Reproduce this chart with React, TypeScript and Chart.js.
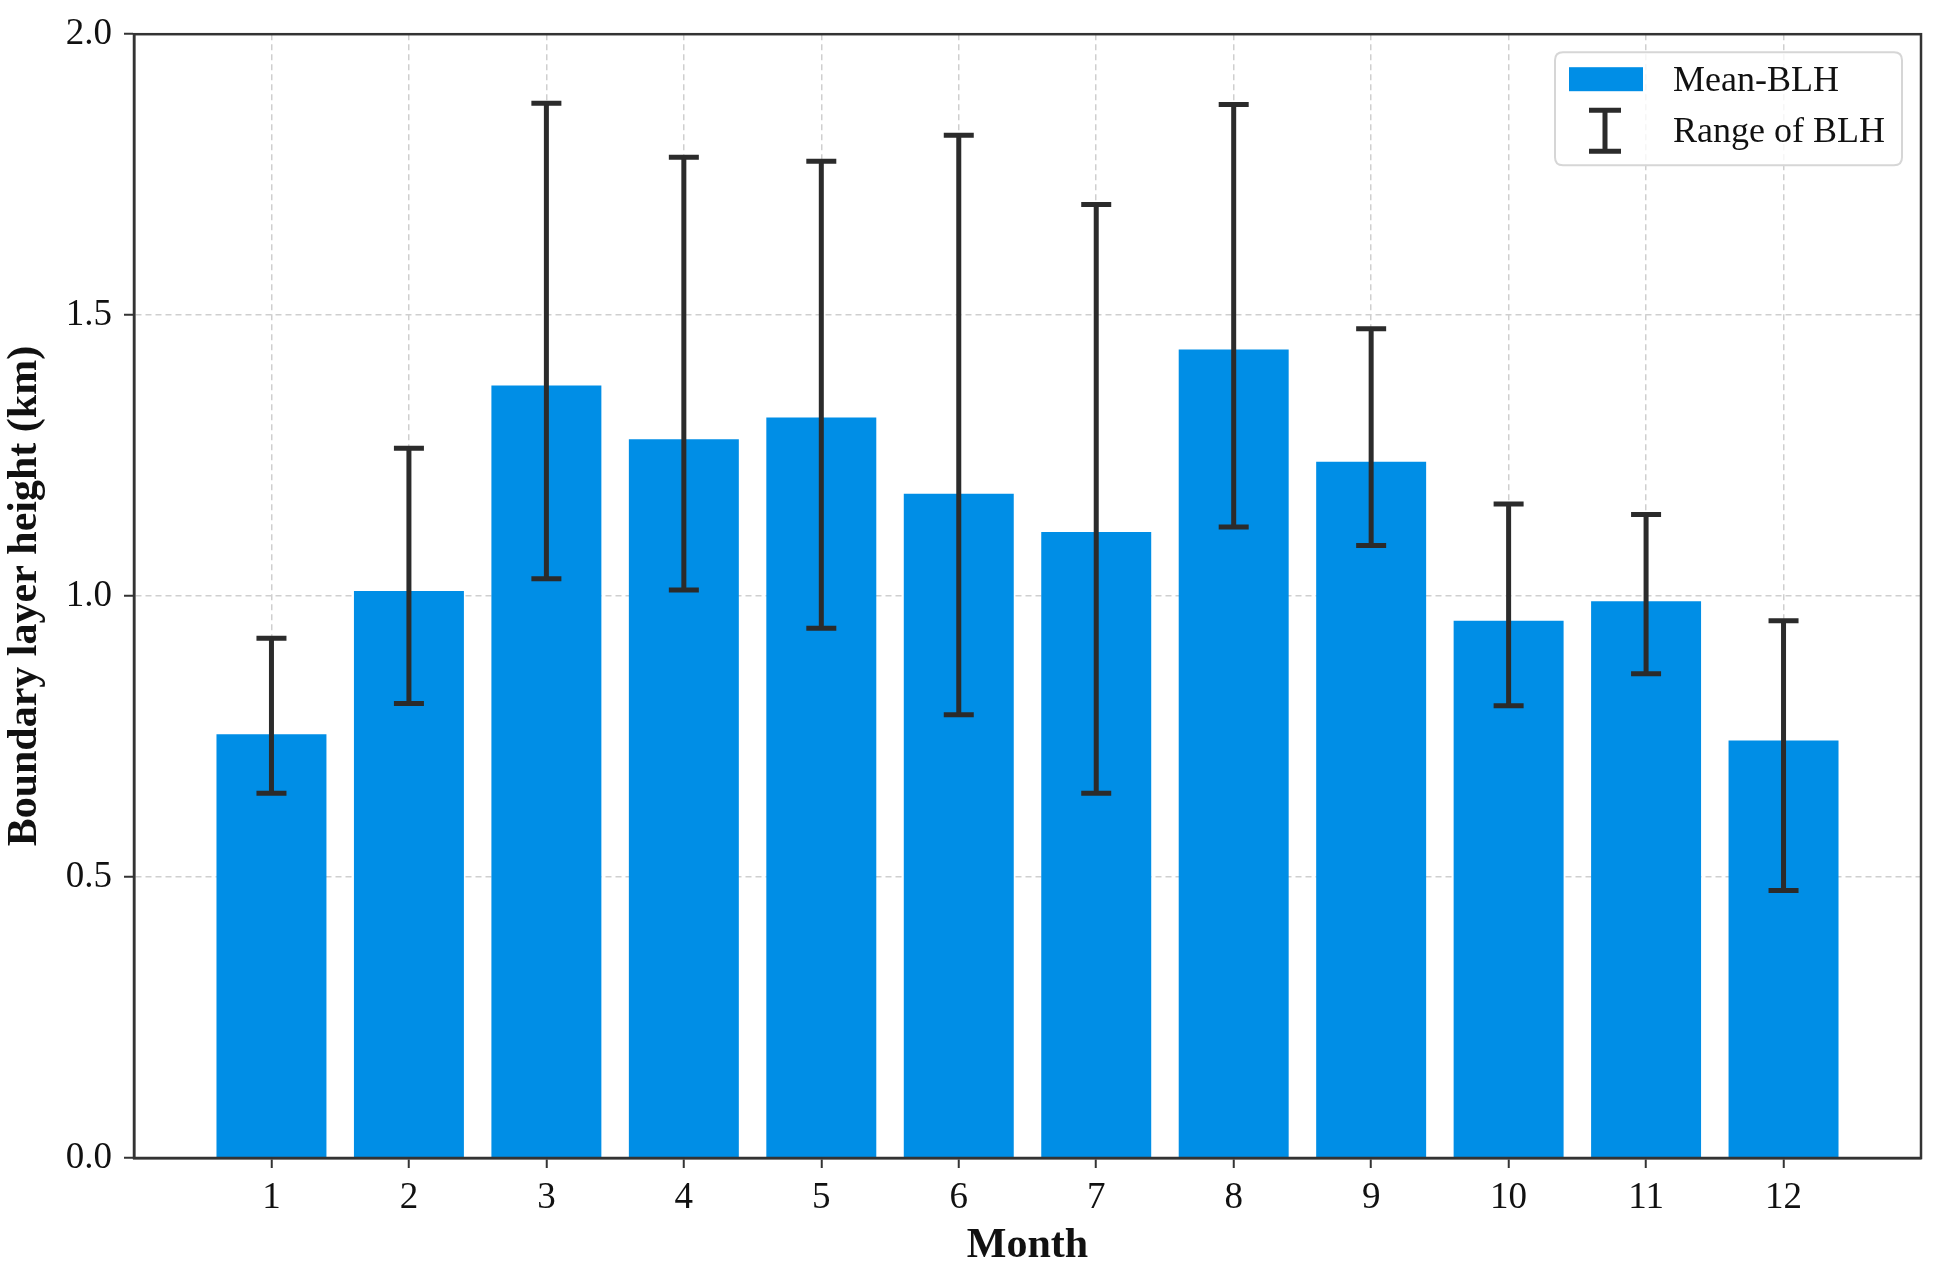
import React, { useEffect, useRef } from "react";
import { Chart, registerables } from "chart.js";

Chart.register(...registerables);

const months = [1, 2, 3, 4, 5, 6, 7, 8, 9, 10, 11, 12];
const meanBLH = [0.754, 1.009, 1.375, 1.279, 1.318, 1.182, 1.114, 1.439, 1.239, 0.956, 0.991, 0.743];
const rangeLow = [0.649, 0.809, 1.031, 1.011, 0.943, 0.789, 0.649, 1.123, 1.090, 0.805, 0.862, 0.476];
const rangeHigh = [0.925, 1.263, 1.877, 1.781, 1.774, 1.820, 1.697, 1.875, 1.476, 1.164, 1.145, 0.956];
const yTicks = [0, 0.5, 1.0, 1.5, 2.0];
const seriesLabels = ["Mean-BLH", "Range of BLH"];

const FONT = "'Liberation Serif', 'Times New Roman', serif";
const BAR_COLOR = "#008ee6";
const ERR_COLOR = "#2b2b2b";
const AXIS_COLOR = "#333333";

const errorBarPlugin = {
  id: "errorBars",
  afterDatasetsDraw(chart: any) {
    const { ctx, scales } = chart;
    const xs = scales.x;
    const ys = scales.y;
    ctx.save();
    ctx.strokeStyle = ERR_COLOR;
    ctx.lineWidth = 5;
    ctx.lineCap = "butt";
    months.forEach((m, i) => {
      const x = xs.getPixelForValue(m);
      const yLo = ys.getPixelForValue(rangeLow[i]);
      const yHi = ys.getPixelForValue(rangeHigh[i]);
      const cap = 15;
      ctx.beginPath();
      ctx.moveTo(x, yLo);
      ctx.lineTo(x, yHi);
      ctx.moveTo(x - cap, yLo);
      ctx.lineTo(x + cap, yLo);
      ctx.moveTo(x - cap, yHi);
      ctx.lineTo(x + cap, yHi);
      ctx.stroke();
    });
    ctx.restore();
  },
};

const framePlugin = {
  id: "frame",
  afterDraw(chart: any) {
    const { ctx, chartArea } = chart;
    ctx.save();
    ctx.setLineDash([]);
    ctx.strokeStyle = AXIS_COLOR;
    ctx.lineWidth = 2.5;
    ctx.strokeRect(chartArea.left, chartArea.top, chartArea.right - chartArea.left, chartArea.bottom - chartArea.top);
    ctx.restore();
  },
};

function roundRect(ctx: CanvasRenderingContext2D, x: number, y: number, w: number, h: number, r: number) {
  ctx.beginPath();
  ctx.moveTo(x + r, y);
  ctx.lineTo(x + w - r, y);
  ctx.quadraticCurveTo(x + w, y, x + w, y + r);
  ctx.lineTo(x + w, y + h - r);
  ctx.quadraticCurveTo(x + w, y + h, x + w - r, y + h);
  ctx.lineTo(x + r, y + h);
  ctx.quadraticCurveTo(x, y + h, x, y + h - r);
  ctx.lineTo(x, y + r);
  ctx.quadraticCurveTo(x, y, x + r, y);
  ctx.closePath();
}

const legendPlugin = {
  id: "customLegend",
  afterDraw(chart: any) {
    const { ctx, chartArea } = chart;
    const bx = chartArea.right - 366;
    const by = chartArea.top + 18;
    const bw = 347;
    const bh = 113;
    ctx.save();
    ctx.setLineDash([]);
    roundRect(ctx, bx, by, bw, bh, 8);
    ctx.fillStyle = "rgba(255,255,255,0.8)";
    ctx.fill();
    ctx.strokeStyle = "#d6d6d6";
    ctx.lineWidth = 2;
    ctx.stroke();

    ctx.fillStyle = BAR_COLOR;
    ctx.fillRect(bx + 14, by + 15, 74, 24);

    const sx = bx + 50;
    const y1 = by + 58;
    const y2 = by + 99;
    ctx.strokeStyle = ERR_COLOR;
    ctx.lineWidth = 5;
    ctx.beginPath();
    ctx.moveTo(sx, y1);
    ctx.lineTo(sx, y2);
    ctx.moveTo(sx - 16, y1);
    ctx.lineTo(sx + 16, y1);
    ctx.moveTo(sx - 16, y2);
    ctx.lineTo(sx + 16, y2);
    ctx.stroke();

    ctx.fillStyle = "#111111";
    ctx.font = `36px ${FONT}`;
    ctx.textBaseline = "middle";
    ctx.textAlign = "left";
    ctx.fillText(seriesLabels[0], bx + 118, by + 29);
    ctx.fillText(seriesLabels[1], bx + 118, by + 80);
    ctx.restore();
  },
};

export default function App() {
  const canvasRef = useRef<HTMLCanvasElement | null>(null);

  useEffect(() => {
    document.body.style.margin = "0";
    const canvas = canvasRef.current;
    if (!canvas) return;
    const chart = new Chart(canvas, {
      type: "bar",
      data: {
        datasets: [
          {
            label: seriesLabels[0],
            data: months.map((m, i) => ({ x: m, y: meanBLH[i] })),
            backgroundColor: BAR_COLOR,
            borderWidth: 0,
            barPercentage: 0.8,
            categoryPercentage: 1.0,
          },
        ],
      },
      options: {
        responsive: false,
        animation: false,
        devicePixelRatio: 1,
        layout: { padding: { top: 32, right: 14, left: 0, bottom: 0 } },
        plugins: {
          legend: { display: false },
          tooltip: { enabled: false },
        },
        scales: {
          x: {
            type: "linear",
            min: 0,
            max: 13,
            offset: false,
            afterBuildTicks: (scale: any) => {
              scale.ticks = months.map((v) => ({ value: v }));
            },
            afterFit: (scale: any) => {
              scale.height = 113;
            },
            ticks: {
              autoSkip: false,
              maxRotation: 0,
              padding: 8,
              color: "#111111",
              font: { family: FONT, size: 37 },
              callback: (v: any) => String(v),
            },
            grid: {
              offset: false,
              color: "#cfcfcf",
              lineWidth: 1.5,
              drawTicks: true,
              tickLength: 10,
              tickColor: AXIS_COLOR,
              tickWidth: 2,
              tickBorderDash: [],
            },
            border: { display: true, color: AXIS_COLOR, width: 2.5, dash: [6, 4] },
            title: {
              display: true,
              text: "Month",
              color: "#111111",
              font: { family: FONT, size: 42, weight: "bold" },
              padding: { top: 0, bottom: 0 },
            },
          },
          y: {
            type: "linear",
            min: 0,
            max: 2,
            afterBuildTicks: (scale: any) => {
              scale.ticks = yTicks.map((v) => ({ value: v }));
            },
            afterFit: (scale: any) => {
              scale.width = 134;
            },
            ticks: {
              padding: 12,
              color: "#111111",
              font: { family: FONT, size: 37 },
              callback: (v: any) => Number(v).toFixed(1),
            },
            grid: {
              offset: false,
              color: "#cfcfcf",
              lineWidth: 1.5,
              drawTicks: true,
              tickLength: 10,
              tickColor: AXIS_COLOR,
              tickWidth: 2,
              tickBorderDash: [],
            },
            border: { display: true, color: AXIS_COLOR, width: 2.5, dash: [6, 4] },
            title: {
              display: true,
              text: "Boundary layer height (km)",
              color: "#111111",
              font: { family: FONT, size: 42, weight: "bold" },
              padding: { top: 0, bottom: 0 },
            },
          },
        },
      },
      plugins: [errorBarPlugin, framePlugin, legendPlugin],
    } as any);
    return () => chart.destroy();
  }, []);

  return (
    <div style={{ width: 1935, height: 1271, background: "#ffffff" }}>
      <canvas ref={canvasRef} width={1935} height={1271} style={{ width: 1935, height: 1271, display: "block" }} />
    </div>
  );
}
